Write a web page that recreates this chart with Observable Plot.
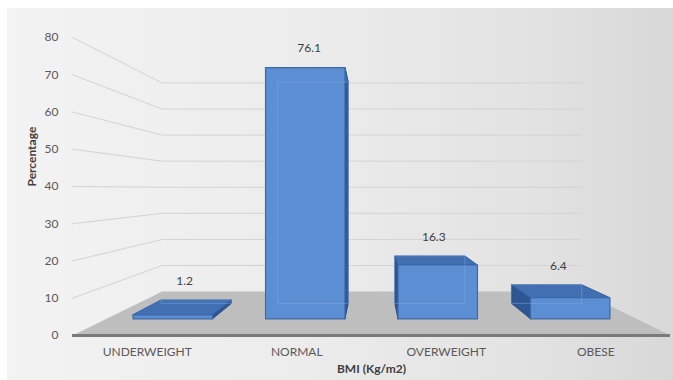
<!DOCTYPE html>
<html>
<head>
<meta charset="utf-8">
<script src="https://cdn.jsdelivr.net/npm/d3@7"></script>
<script src="https://cdn.jsdelivr.net/npm/@observablehq/plot@0.6"></script>
<style>
  html, body { margin: 0; padding: 0; background: #fff; }
  #chart svg {
    display: block;
    background:
      linear-gradient(to bottom, #ffffff 0 8px, transparent 8px),
      linear-gradient(to right, #ffffff 0 7px, transparent 7px),
      linear-gradient(to right, #f3f3f3 0%, #ececec 45%, #e2e2e2 80%, #d8d8d8 100%) !important;
  }
</style>
</head>
<body>
<div id="chart"></div>
<script>
// ---- data ----
const categories = ["UNDERWEIGHT", "NORMAL", "OVERWEIGHT", "OBESE"];
const values = [1.2, 76.1, 16.3, 6.4];
const yTicks = [0, 10, 20, 30, 40, 50, 60, 70, 80];
const gridValues = [10, 20, 30, 40, 50, 60, 70, 80];
const xTitle = "BMI (Kg/m2)";
const yTitle = "Percentage";

// ---- pseudo-3D projection (world X in band units, value v, depth d 0..1) ----
const shrink = 0.3;     // perspective shrink at back wall
const rise = 11.8;      // floor rise at back wall (in value units)
const dFront = 0.38, dBack = 0.73, half = 0.3;
const P = (X, v, d) => ({x: X * (1 - shrink * d), y: rise * d + v * (1 - shrink * d)});
const center = i => i - (categories.length - 1) / 2;

function poly(id, pts) { return pts.map(([X, v, d], k) => ({id, k, ...P(X, v, d)})); }

const floor = poly("floor", [[-2, 0, 0], [2, 0, 0], [2, 0, 1], [-2, 0, 1]]);
const grid = gridValues.flatMap(v => poly("g" + v, [[-2, v, 0], [-2, v, 1], [2, v, 1]]));

const fronts = [], tops = [], sides = [], backs = [], labels = [];
values.forEach((v, i) => {
  const c = center(i), l = c - half, r = c + half;
  fronts.push(...poly("f" + i, [[l, 0, dFront], [r, 0, dFront], [r, v, dFront], [l, v, dFront]]));
  tops.push(...poly("t" + i, [[l, v, dFront], [r, v, dFront], [r, v, dBack], [l, v, dBack]]));
  const sx = c < 0 ? r : l;
  sides.push(...poly("s" + i, [[sx, 0, dFront], [sx, 0, dBack], [sx, v, dBack], [sx, v, dFront]]));
  backs.push(...poly("b" + i, [[l, 0, dBack], [r, 0, dBack], [r, v, dBack], [l, v, dBack]]));
  const pf = P(c, v, dFront), pb = P(c, v, dBack);
  labels.push({x: (pf.x + pb.x) / 2, y: Math.max(pf.y, pb.y), text: String(v)});
});

const font = "Lato, 'Liberation Sans', sans-serif";

const chart = Plot.plot({
  width: 673,
  height: 380,
  marginLeft: 72,
  marginRight: 3,
  marginTop: 37,
  marginBottom: 45,
  style: {fontFamily: font, fontSize: "12px", color: "#595959", overflow: "visible"},
  x: {domain: [-2, 2]},
  y: {domain: [0, 80]},
  marks: [
    // floor
    Plot.line(floor, {x: "x", y: "y", z: "id", curve: "linear-closed", fill: "#bebebe", stroke: "none"}),
    // left + back wall gridlines
    Plot.line(grid, {x: "x", y: "y", z: "id", stroke: "#d3d3d3", strokeWidth: 1}),
    // front floor edge
    Plot.ruleY([0], {stroke: "#7a7a7a", strokeWidth: 3}),
    // bars
    Plot.line(sides, {x: "x", y: "y", z: "id", curve: "linear-closed", fill: "#2e5692", stroke: "#2a4f86", strokeWidth: 1}),
    Plot.line(tops, {x: "x", y: "y", z: "id", curve: "linear-closed", fill: "#416fb2", stroke: "#335f9f", strokeWidth: 1}),
    Plot.line(fronts, {x: "x", y: "y", z: "id", curve: "linear-closed", fill: "#5b8ed3", stroke: "#3a68a8", strokeWidth: 1.2}),
    Plot.line(backs, {x: "x", y: "y", z: "id", curve: "linear-closed", stroke: "#86ade6", strokeOpacity: 0.45, strokeWidth: 1}),
    // value labels
    Plot.text(labels, {x: "x", y: "y", text: "text", dy: -19, fill: "#404040", fontSize: 12}),
    // axes
    Plot.axisY({ticks: yTicks, tickSize: 0, tickPadding: 14, label: null, fontSize: 12}),
    Plot.axisX({ticks: categories.map((_, i) => center(i)), tickFormat: t => categories[Math.round(t + (categories.length - 1) / 2)],
                tickSize: 0, tickPadding: 12, label: null, fontSize: 12}),
    // titles
    Plot.text([yTitle], {frameAnchor: "left", dx: -40, rotate: -90, fontWeight: "bold", fill: "#404040", fontSize: 12}),
    Plot.text([xTitle], {frameAnchor: "bottom", dy: 37, fontWeight: "bold", fill: "#404040", fontSize: 12})
  ]
});
document.getElementById("chart").appendChild(chart);
</script>
</body>
</html>
